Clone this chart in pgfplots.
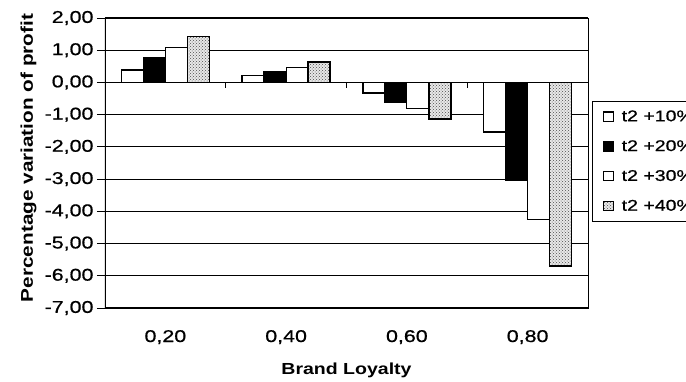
\documentclass[border=0pt]{standalone}
\usepackage{fontspec}
\setmainfont{Liberation Sans}[FakeStretch=1.22]
\newfontfamily\tickfont{Liberation Sans}[FakeStretch=1.26, FakeBold=0.8]
\usepackage{pgfplots}
\pgfplotsset{compat=1.18}
\usetikzlibrary{patterns}

% square legend keys
\pgfplotsset{
  legsq/.style={legend image code/.code={%
      \draw[##1, line width=1.1pt] (0pt,-4.6pt) rectangle (9.2pt,4.6pt);}},
}

\begin{document}
\begin{tikzpicture}
\begin{axis}[
  name=ax,
  scale only axis,
  width=483pt, height=290pt,
  xmin=-0.5, xmax=3.5,
  ymin=-7, ymax=2,
  ytick={-7,-6,-5,-4,-3,-2,-1,0,1,2},
  xtick={0,1,2,3},
  xticklabels={{0,20},{0,40},{0,60},{0,80}},
  ybar=0pt, bar width=22pt,
  ymajorgrids,
  grid style={black, line width=1.1pt},
  axis line style={black, line width=0.8pt},
  tick align=outside,
  major tick length=8pt,
  ytick pos=left,
  xtick style={draw=none},
  ytick style={black, line width=0.9pt},
  /pgf/number format/fixed,
  /pgf/number format/fixed zerofill,
  /pgf/number format/precision=2,
  /pgf/number format/use comma,
  /pgf/number format/assume math mode=true,
  tick label style={font=\tickfont\fontsize{17}{20}\selectfont},
  xticklabel style={anchor=base, yshift=-26pt},
  xlabel={Brand Loyalty},
  ylabel={Percentage variation of profit},
  xlabel style={at={([yshift=-66pt]axis description cs:0.5,0)}, anchor=base,
    font=\bfseries\fontsize{16}{19}\selectfont},
  ylabel style={at={([xshift=-72pt,yshift=5pt]axis description cs:0,0.5)}, anchor=base,
    font=\bfseries\fontsize{17}{20}\selectfont},
  legend style={at={([xshift=4pt,yshift=-83pt]axis description cs:1,1)}, anchor=north west,
    draw=black, line width=0.8pt, row sep=13.5pt, inner xsep=11pt, inner ysep=7pt,
    /tikz/every odd column/.append style={column sep=6pt},
    font=\tickfont\fontsize{15.5}{18}\selectfont},
  legend cell align=left,
]
\addplot[legsq, draw=black, fill=white, line width=1.5pt]
  coordinates {(0,0.39) (1,0.21) (2,-0.33) (3,-1.54)};
\addplot[legsq, draw=black, fill=black, line width=1.5pt]
  coordinates {(0,0.78) (1,0.32) (2,-0.61) (3,-3.02)};
\addplot[legsq, draw=black, fill=white, line width=1.2pt]
  coordinates {(0,1.09) (1,0.47) (2,-0.82) (3,-4.26)};
\addplot[legsq, draw=black, fill=gray!18, line width=1.5pt,
  postaction={pattern=crosshatch dots, pattern color=black!70}]
  coordinates {(0,1.43) (1,0.63) (2,-1.13) (3,-5.70)};
\legend{t2 +10\%, t2 +20\%, t2 +30\%, t2 +40\%}

% zero line of the category axis with its tick marks between groups
\draw[black, line width=1.6pt] (axis cs:-0.5,0) -- (axis cs:3.5,0);
\draw[black, line width=1pt] (axis cs:0.5,0) -- ++(0pt,-6pt);
\draw[black, line width=1pt] (axis cs:1.5,0) -- ++(0pt,-6pt);
\draw[black, line width=1pt] (axis cs:2.5,0) -- ++(0pt,-6pt);
% heavier value axis
\draw[black, line width=1.6pt] (axis description cs:0,0) -- (axis description cs:0,1);
\end{axis}
\pgfresetboundingbox
\path[use as bounding box] ([shift={(-105pt,-73pt)}]ax.south west)
  rectangle ([shift={(581pt,308pt)}]ax.south west);
\end{tikzpicture}
\end{document}
